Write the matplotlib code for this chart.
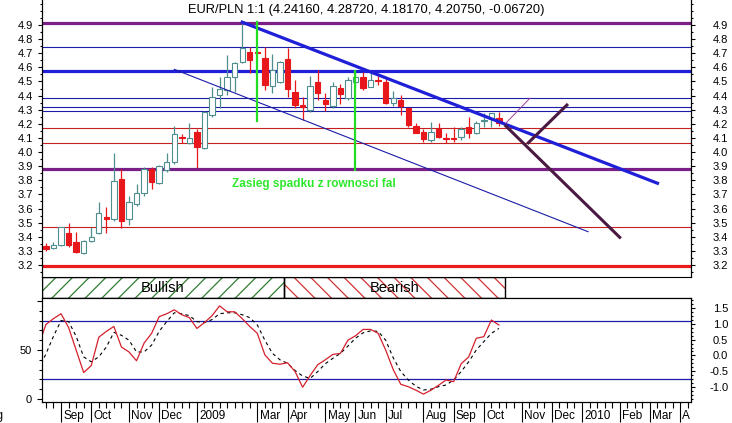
import numpy as np
import matplotlib.pyplot as plt
from matplotlib.patches import Rectangle
from matplotlib.ticker import MultipleLocator, FixedLocator
import matplotlib.transforms as mtransforms

plt.rcParams['font.family'] = ['Liberation Sans', 'DejaVu Sans']
plt.rcParams['hatch.linewidth'] = 0.9

# weekly bars EUR/PLN, Fri 22 Aug 2008 .. Fri 16 Oct 2009 (x = week number)
opens = [3.335, 3.318, 3.342, 3.425, 3.361, 3.287, 3.370, 3.429, 3.542, 3.524,
         3.809, 3.524, 3.630, 3.708, 3.878, 3.779, 3.875, 3.927, 4.109, 4.062,
         4.144, 4.027, 4.263, 4.404, 4.440, 4.534, 4.640, 4.711, 4.708, 4.664,
         4.470, 4.498, 4.657, 4.423, 4.334, 4.298, 4.494, 4.369, 4.326, 4.452,
         4.381, 4.498, 4.534, 4.463, 4.510, 4.498, 4.350, 4.369, 4.310, 4.185,
         4.144, 4.085, 4.161, 4.098, 4.098, 4.109, 4.180, 4.137, 4.220, 4.232,
         4.2416]
highs = [3.358, 3.365, 3.470, 3.495, 3.436, 3.377, 3.467, 3.648, 3.609, 3.991,
         3.878, 3.689, 3.774, 3.896, 3.896, 3.905, 3.990, 4.187, 4.128, 4.204,
         4.160, 4.290, 4.459, 4.534, 4.688, 4.635, 4.915, 4.747, 4.712, 4.747,
         4.693, 4.645, 4.735, 4.510, 4.392, 4.539, 4.581, 4.416, 4.498, 4.482,
         4.534, 4.565, 4.569, 4.569, 4.539, 4.523, 4.435, 4.404, 4.312, 4.204,
         4.161, 4.215, 4.208, 4.133, 4.180, 4.180, 4.246, 4.220, 4.279, 4.280,
         4.2872]
lows = [3.301, 3.311, 3.338, 3.330, 3.287, 3.276, 3.365, 3.420, 3.429, 3.514,
        3.460, 3.483, 3.620, 3.689, 3.738, 3.775, 3.860, 3.913, 4.062, 4.060,
        3.885, 4.020, 4.246, 4.310, 4.404, 4.423, 4.633, 4.562, 4.695, 4.440,
        4.416, 4.490, 4.392, 4.310, 4.227, 4.286, 4.369, 4.291, 4.310, 4.340,
        4.369, 4.454, 4.440, 4.460, 4.475, 4.340, 4.326, 4.262, 4.180, 4.133,
        4.073, 4.073, 4.098, 4.066, 4.073, 4.085, 4.098, 4.130, 4.180, 4.180,
        4.1817]
closes = [3.312, 3.342, 3.468, 3.342, 3.294, 3.370, 3.396, 3.567, 3.524, 3.795,
          3.514, 3.644, 3.708, 3.880, 3.786, 3.901, 3.932, 4.126, 4.098, 4.098,
          4.034, 4.286, 4.392, 4.445, 4.530, 4.629, 4.735, 4.652, 4.700, 4.475,
          4.581, 4.640, 4.445, 4.333, 4.321, 4.468, 4.420, 4.340, 4.468, 4.409,
          4.510, 4.530, 4.456, 4.510, 4.503, 4.345, 4.381, 4.326, 4.192, 4.137,
          4.090, 4.144, 4.105, 4.091, 4.093, 4.161, 4.133, 4.208, 4.227, 4.2747,
          4.2075]
weeks = np.arange(len(opens))

# stochastic oscillator, first value is the week before the first bar
stoch_k = [54, 76, 82, 87, 73, 50, 27, 34, 63, 69, 74, 53, 48, 39, 57, 67, 84, 87,
           91, 86, 83, 72, 78, 85, 95, 89, 89, 82, 74, 67, 45, 36.5, 35.5, 37, 28,
           12, 24, 35, 40, 45.5, 46.5, 60, 64.5, 71, 71, 67, 50, 30, 15, 12.5, 9,
           5, 9, 14, 19.4, 17.7, 36, 43, 62, 63.6, 80.6, 75.5]
stoch_d = [30, 46, 64, 80, 79, 64, 43, 38, 43, 53, 68, 65, 60, 48, 48, 55, 69, 79,
           88, 87, 85, 79, 78, 81, 87, 88, 88, 86, 83, 75.5, 60, 46.6, 40, 36.4, 29,
           23.5, 21, 28, 36, 41.5, 46.5, 54, 62, 67.5, 69.5, 69, 60, 42, 28, 19.4,
           13, 9.2, 10, 12.6, 14.3, 19.4, 28, 38, 50, 58.5, 67, 72]
stoch_x = np.arange(-1, len(stoch_k) - 1)

# horizontal levels
blue_levels = [4.742, 4.381, 4.317, 4.291]
blue_thick_levels = [4.576]
red_levels = [4.170, 4.062, 3.467]
red_thick_levels = [3.195]
purple_levels = [4.915, 3.880]

# trend lines: ([week, week], [price, price])
trend_main = ([26.0, 81.0], [4.920, 3.779])
trend_channel = ([17.0, 71.8], [4.586, 3.436])
wave_down = ([60.9, 76.0], [4.185, 3.396])
wave_up = ([63.9, 69.0], [4.066, 4.333])
thin_up = ([60.9, 64.1], [4.204, 4.381])
green_lines = [(28, 4.920, 4.220), (41, 4.576, 3.876)]

bull_end = 31.5
bear_end = 60.8

month_pos = [2, 6, 11, 15, 20, 28, 32, 37, 41, 45, 50, 54, 58, 63, 67, 71, 76, 80, 84]
month_lab = ['Sep', 'Oct', 'Nov', 'Dec', '2009', 'Mar', 'Apr', 'May', 'Jun', 'Jul',
             'Aug', 'Sep', 'Oct', 'Nov', 'Dec', '2010', 'Feb', 'Mar', 'A']

W, H = 732, 423
xlim = (-0.52, 85.44)


def box(l, t, r, b):
    return [l / W, 1 - b / H, (r - l) / W, (b - t) / H]


fig = plt.figure(figsize=(W / 100, H / 100), dpi=100)
ax = fig.add_axes(box(42, 0, 691, 277))
band = fig.add_axes(box(42, 277, 691, 298))
osc = fig.add_axes(box(42, 298, 691, 402))

navy = '#1c1ca8'
teal = '#4e8e8e'
red = '#e8171c'

# ---- price panel
for lv in blue_levels:
    ax.axhline(lv, color=navy, lw=0.8, zorder=1)
for lv in blue_thick_levels:
    ax.axhline(lv, color='#1f1fd8', lw=2.3, zorder=1)
for lv in red_levels:
    ax.axhline(lv, color='#c41e1e', lw=0.8, zorder=1)
for lv in red_thick_levels:
    ax.axhline(lv, color='#e81c1c', lw=2.3, zorder=1)
for lv in purple_levels:
    ax.axhline(lv, color='#7a1f86', lw=2.3, zorder=1)

for i in weeks:
    o, h, l, c = opens[i], highs[i], lows[i], closes[i]
    up = c >= o
    col = teal if up else red
    ax.vlines(i, l, h, color=col, lw=0.9, zorder=2)
    ax.bar(i, max(abs(c - o), 0.004), bottom=min(o, c), width=0.72,
           facecolor='white' if up else red, edgecolor=col, lw=0.8, zorder=3)

ax.plot(*trend_main, color='#1f1fd8', lw=2.3, zorder=4)
ax.plot(*trend_channel, color=navy, lw=0.8, zorder=4)
ax.plot(*wave_down, color='#4a1a42', lw=2.2, zorder=4)
ax.plot(*wave_up, color='#4a1a42', lw=2.2, zorder=4)
ax.plot(*thin_up, color='#a040a0', lw=0.7, zorder=4)
for gx, g1, g2 in green_lines:
    ax.plot([gx, gx], [g1, g2], color='#22dd22', lw=1.6, zorder=5)

ax.text(24.65, 3.772, 'Zasieg spadku z rownosci fal', color='#2ee82e', fontsize=8.5,
        fontweight='bold', va='center', ha='left', zorder=5)

prev = closes[-2]
title = 'EUR/PLN 1:1 ({:.5f}, {:.5f}, {:.5f}, {:.5f}, {:.5f})'.format(
    opens[-1], highs[-1], lows[-1], closes[-1], closes[-1] - prev)
ax.text(0.5, 1 - 9.5 / 277, title, transform=ax.transAxes, ha='center', va='center',
        fontsize=9.3)

ax.set_xlim(xlim)
ax.set_ylim(3.115, 5.077)
yt = np.round(np.arange(3.2, 4.95, 0.1), 1)
ax.set_yticks(yt)
ax.set_yticklabels(['%.1f' % v for v in yt])
ax.yaxis.set_minor_locator(MultipleLocator(0.05))
ax.tick_params(axis='y', which='major', length=3, width=0.8, pad=3.6, labelsize=8)
ax.tick_params(axis='y', which='minor', length=1.5, width=0.8)
ax.set_xticks([])
for s in ['top', 'bottom']:
    ax.spines[s].set_visible(False)

axr = ax.twinx()
axr.set_ylim(ax.get_ylim())
axr.set_yticks(yt)
axr.set_yticklabels(['%.1f' % v for v in yt], ha='right')
axr.yaxis.set_minor_locator(MultipleLocator(0.05))
axr.tick_params(axis='y', which='major', length=3, width=0.8, pad=23.8, labelsize=8)
axr.tick_params(axis='y', which='minor', length=1.5, width=0.8)
for s in ['top', 'bottom']:
    axr.spines[s].set_visible(False)

# ---- bullish / bearish band
band.set_xlim(xlim)
band.set_ylim(0, 1)
band.add_patch(Rectangle((xlim[0], 0), bull_end - xlim[0], 1, facecolor='white',
                         edgecolor='#2f7d32', hatch='//', lw=0))
band.add_patch(Rectangle((bull_end, 0), bear_end - bull_end, 1, facecolor='white',
                         edgecolor='#d03434', hatch='\\\\', lw=0))
band.add_patch(Rectangle((xlim[0], 0), bull_end - xlim[0], 1, fill=False,
                         edgecolor='black', lw=1))
band.add_patch(Rectangle((bull_end, 0), bear_end - bull_end, 1, fill=False,
                         edgecolor='black', lw=1))
band.text((xlim[0] + bull_end) / 2, 0.5, 'Bullish', ha='center', va='center', fontsize=10.5)
band.text((bull_end + bear_end) / 2, 0.5, 'Bearish', ha='center', va='center', fontsize=10.5)
band.set_xticks([])
band.set_yticks([])
band.spines['right'].set_visible(False)

# ---- oscillator
osc.set_xlim(xlim)
osc.set_ylim(-3.06, 103.06)
osc.axhline(80, color=navy, lw=0.9)
osc.axhline(20, color=navy, lw=0.9)
osc.plot(stoch_x, stoch_d, color='black', lw=0.8, ls=(0, (3, 3)))
osc.plot(stoch_x, stoch_k, color='#d4202c', lw=0.9)
osc.set_yticks([0, 50, 100])
osc.set_yticklabels(['0', '50', ''])
osc.yaxis.set_minor_locator(MultipleLocator(10))
osc.tick_params(axis='y', which='major', length=3.5, width=0.8, pad=3.6, labelsize=8)
osc.tick_params(axis='y', which='minor', length=2, width=0.8)
osc.set_xticks(month_pos)
osc.set_xticklabels([])
osc.xaxis.set_minor_locator(FixedLocator(np.arange(0, 86)))
osc.tick_params(axis='x', which='major', length=14.4, width=0.8)
osc.tick_params(axis='x', which='minor', length=4.3, width=0.8)
trans = mtransforms.blended_transform_factory(osc.transData, osc.transAxes)
for p, lab in zip(month_pos, month_lab):
    osc.text(p + 0.3, -0.13, lab, transform=trans, ha='left', va='center', fontsize=8.5)
fig.text(4 / W, 1 - 415.5 / H, 'Aug', ha='right', va='center', fontsize=8.5)

oscr = osc.twinx()
oscr.set_ylim(-1.475, 1.82)
rt = [-1.0, -0.5, 0.0, 0.5, 1.0, 1.5]
oscr.set_yticks(rt)
oscr.set_yticklabels(['%.1f' % v for v in rt], ha='right')
oscr.yaxis.set_minor_locator(MultipleLocator(0.125))
oscr.tick_params(axis='y', which='major', length=3, width=0.8, pad=23.8, labelsize=8)
oscr.tick_params(axis='y', which='minor', length=1.5, width=0.8)

fig.savefig('out.png', dpi=100)
